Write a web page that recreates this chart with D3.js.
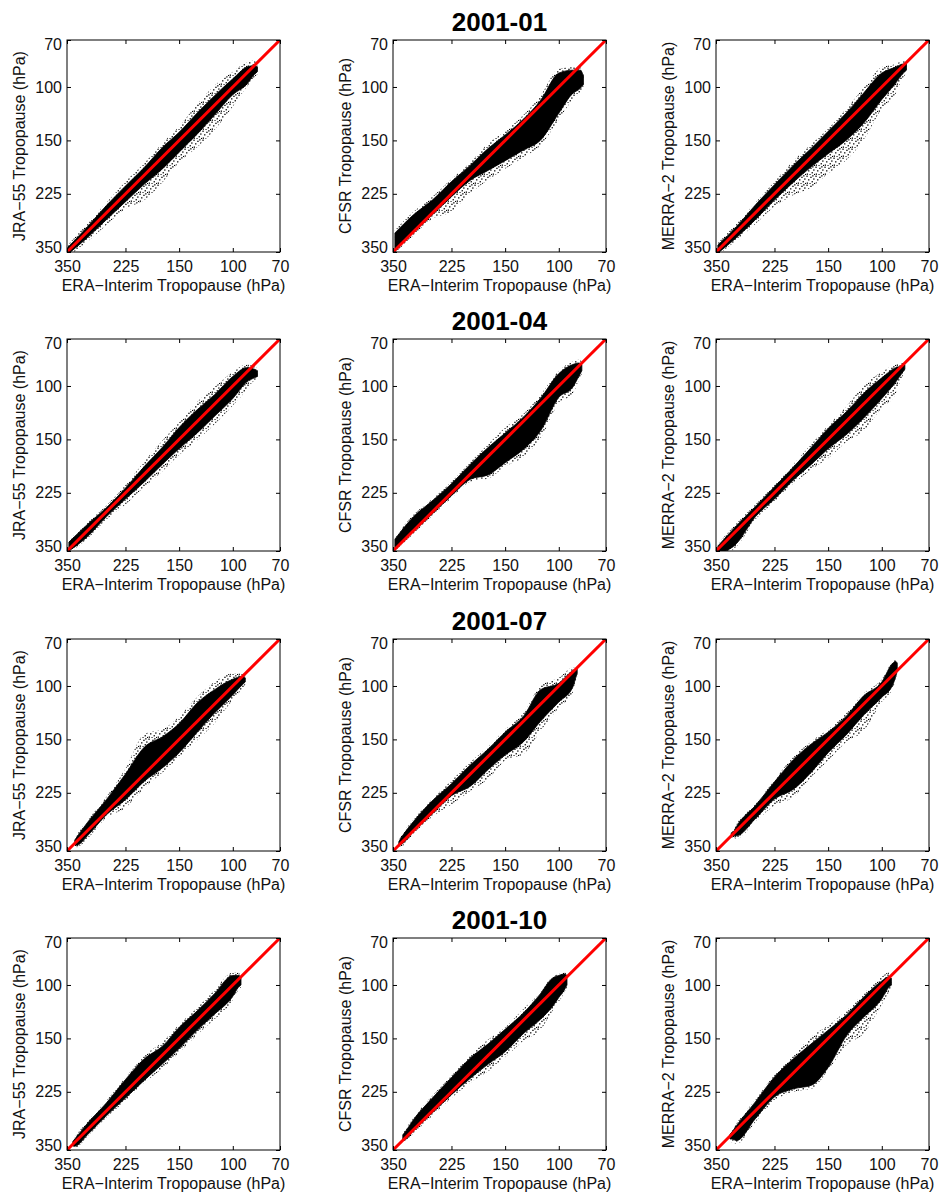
<!DOCTYPE html>
<html>
<head>
<meta charset="utf-8">
<script src="https://cdn.jsdelivr.net/npm/d3@7"></script>
<style>
  body { margin: 0; background: #fff; }
  text { font-family: "Liberation Sans", Arial, Helvetica, sans-serif; fill: #111; }
</style>
</head>
<body>
<script>
// cloud envelopes, one row per ERA-Interim level:
// [ERA p, dense min p, dense max p, sparse min p, sparse max p]  (hPa)
var jra55_0101 = [[348,338,356,332,362],[300,289,314,282,324],[260,246,274,241,285],[225,212,239,205,252],[195,184,209,178,236],[170,158,186,153,206],[150,141,164,135,177],[130,121,142,113,157],[115,107,124,99,139],[100,94,106,89,116],[90,86,98,83,100],[85,85,91,82,93],[83,86,89,84,91]];
var cfsr_0101 = [[345,303,348,296,353],[300,264,302,258,309],[260,236,264,230,272],[225,205,230,201,258],[195,181,203,177,224],[170,159,188,153,202],[150,144,175,140,186],[130,127,161,123,170],[115,111,150,107,156],[100,90,122,87,128],[90,88,105,86,110],[85,88,101,86,104],[83,92,98,90,101]];
var merra2_0101 = [[345,332,353,327,358],[300,289,314,282,321],[260,245,274,241,283],[225,210,236,205,248],[195,181,206,175,227],[170,159,183,154,214],[150,140,166,137,193],[130,121,149,117,173],[115,105,132,101,150],[100,90,110,86,118],[90,86,97,84,105],[85,84,90,82,93],[83,84,88,82,90]];

var jra55_0104 = [[345,327,350,322,356],[300,286,314,282,319],[260,252,270,248,276],[225,217,236,212,246],[195,184,207,177,215],[170,159,181,151,191],[150,137,161,132,169],[130,119,142,112,150],[115,107,126,101,134],[100,93,110,90,116],[90,87,97,85,103],[85,88,94,86,96],[83,89,93,88,95]];
var cfsr_0104 = [[345,320,345,315,350],[300,270,302,266,307],[260,239,264,236,268],[225,210,230,207,234],[195,181,203,178,207],[170,159,196,155,202],[150,143,179,137,184],[130,126,161,123,171],[115,110,141,107,149],[100,91,109,89,114],[90,85,101,83,106],[86,84,93,82,96],[84,85,89,83,91]];
var merra2_0104 = [[345,337,358,332,367],[300,289,331,284,339],[260,250,270,246,276],[225,215,236,212,241],[195,185,204,181,210],[170,159,181,155,188],[150,138,161,135,173],[130,121,144,116,152],[115,106,128,100,141],[100,94,110,90,118],[90,87,97,85,106],[86,86,91,84,94],[84,85,88,84,90]];

var jra55_0107 = [[330,322,332,320,336],[325,315,335,310,340],[300,282,312,278,319],[260,237,266,232,272],[225,195,237,187,252],[195,159,206,144,217],[170,147,186,139,193],[150,133,166,126,172],[130,113,141,108,150],[115,103,123,97,133],[100,95,107,91,111],[93,93,99,91,102],[91,94,97,92,99]];
var cfsr_0107 = [[335,326,334,322,338],[330,318,333,313,338],[300,280,302,276,307],[260,239,264,236,270],[225,210,230,205,246],[195,182,214,178,222],[170,161,188,158,202],[150,142,169,139,176],[130,125,152,122,167],[115,103,131,100,141],[100,98,113,94,118],[90,89,101,87,105],[88,88,94,87,96],[87,88,91,87,93]];
var merra2_0107 = [[312,305,313,302,316],[305,300,312,296,317],[300,291,312,286,319],[260,248,274,245,280],[225,207,236,204,248],[195,175,219,171,232],[170,155,192,152,199],[150,142,166,139,176],[130,125,144,122,152],[115,108,125,106,141],[100,97,109,95,113],[92,84,99,83,102],[90,83,93,82,95],[89,84,89,83,91]];

var jra55_0110 = [[335,328,338,326,342],[330,322,340,318,345],[300,286,312,282,316],[260,245,270,241,274],[225,205,236,202,241],[195,175,206,171,210],[170,159,182,154,188],[150,138,162,135,167],[130,121,140,118,145],[115,107,125,104,130],[100,93,109,91,112],[96,93,102,91,104],[94,95,100,94,102]];
var cfsr_0110 = [[325,312,322,308,326],[320,306,323,301,327],[300,278,302,274,309],[260,236,264,232,270],[225,202,230,199,236],[195,174,203,170,210],[170,156,182,151,192],[150,140,166,138,173],[130,123,144,119,152],[115,107,130,106,141],[105,95,118,94,122],[100,93,110,92,114],[96,92,104,91,106],[94,93,100,92,102]];
var merra2_0110 = [[315,311,322,308,328],[310,305,322,301,330],[300,291,326,286,334],[260,243,276,239,283],[225,201,234,198,241],[195,175,220,171,225],[170,156,214,148,220],[150,141,187,136,191],[130,125,146,121,157],[115,110,128,107,145],[100,97,111,94,116],[95,94,102,91,106],[93,95,100,94,102]];

var months = ["2001-01", "2001-04", "2001-07", "2001-10"];
var yTitles = ["JRA\u221255 Tropopause (hPa)", "CFSR Tropopause (hPa)", "MERRA\u22122 Tropopause (hPa)"];
var xTitle = "ERA\u2212Interim Tropopause (hPa)";
var tickValues = [350, 225, 150, 100, 70];
var pRange = [350, 70];

var clouds = [
    [jra55_0101, cfsr_0101, merra2_0101],
    [jra55_0104, cfsr_0104, merra2_0104],
    [jra55_0107, cfsr_0107, merra2_0107],
    [jra55_0110, cfsr_0110, merra2_0110]
];

var colLeft = [67, 393, 716];
var rowTop = [40, 339, 639, 938];
var pw = 213, ph = 212;

var svg = d3.select("body")
    .append("svg")
    .attr("width", 939)
    .attr("height", 1194);

svg.append("rect").attr("width", 939).attr("height", 1194).attr("fill", "#fff");

var defs = svg.append("defs");
// irregular speckle tile for the thin outer part of each cloud
var speck = defs.append("pattern")
    .attr("id", "speck")
    .attr("width", 9)
    .attr("height", 9)
    .attr("patternUnits", "userSpaceOnUse");
[[0.4, 0.6], [4.3, 1.7], [7.2, 3.4], [2.1, 4.2], [5.6, 6.1], [0.7, 7.5], [8.0, 7.9], [3.4, 8.2], [6.2, 0.2]].forEach(function (p) {
    speck.append("rect")
        .attr("x", p[0]).attr("y", p[1])
        .attr("width", 1.3).attr("height", 1.3)
        .attr("fill", "#000");
});

defs.append("clipPath")
    .attr("id", "box")
    .append("rect")
    .attr("width", pw)
    .attr("height", ph);

var xScale = d3.scaleLog().domain([350, 70]).range([0, pw]);
var yScale = d3.scaleLog().domain([70, 350]).range([0, ph]);

var denseArea = d3.area()
    .x(function (d) { return xScale(d[0]); })
    .y0(function (d) { return yScale(d[2]); })
    .y1(function (d) { return yScale(d[1]); })
    .curve(d3.curveMonotoneX);

var sparseArea = d3.area()
    .x(function (d) { return xScale(d[0]); })
    .y0(function (d) { return yScale(d[4]); })
    .y1(function (d) { return yScale(d[3]); })
    .curve(d3.curveMonotoneX);

var oneToOne = d3.line()
    .x(function (d) { return xScale(d); })
    .y(function (d) { return yScale(d); });

months.forEach(function (month, r) {
    // month title over the middle column
    svg.append("text")
        .attr("x", colLeft[1] + pw / 2)
        .attr("y", rowTop[r] - 9.5)
        .attr("text-anchor", "middle")
        .style("font-size", "26px")
        .style("font-weight", "bold")
        .style("fill", "#000")
        .text(month);

    colLeft.forEach(function (left, c) {
        var g = svg.append("g")
            .attr("transform", "translate(" + left + "," + rowTop[r] + ")");
        var data = clouds[r][c];

        var plot = g.append("g").attr("clip-path", "url(#box)");
        plot.append("path")
            .datum(data)
            .attr("d", sparseArea)
            .attr("fill", "url(#speck)");
        plot.append("path")
            .datum(data)
            .attr("d", denseArea)
            .attr("fill", "#000")
            .attr("stroke", "#000")
            .attr("stroke-width", 0.8);
        plot.append("path")
            .datum(pRange)
            .attr("d", oneToOne)
            .attr("fill", "none")
            .attr("stroke", "#ff0000")
            .attr("stroke-width", 3);

        // axes, ticks pointing inwards on all four sides
        g.append("g")
            .attr("transform", "translate(0," + ph + ")")
            .call(d3.axisBottom(xScale).tickValues(tickValues).tickFormat(d3.format("d"))
                .tickSizeInner(-4).tickSizeOuter(0).tickPadding(8.5));
        g.append("g")
            .call(d3.axisTop(xScale).tickValues(tickValues).tickFormat("")
                .tickSizeInner(-4).tickSizeOuter(0));
        var yl = g.append("g")
            .call(d3.axisLeft(yScale).tickValues(tickValues).tickFormat(d3.format("d"))
                .tickSizeInner(-4).tickSizeOuter(0).tickPadding(5));
        g.append("g")
            .attr("transform", "translate(" + pw + ",0)")
            .call(d3.axisRight(yScale).tickValues(tickValues).tickFormat("")
                .tickSizeInner(-4).tickSizeOuter(0));

        g.selectAll(".domain").remove();
        g.selectAll(".tick line").attr("stroke", "#000");
        g.selectAll(".tick text")
            .attr("fill", "#111")
            .style("font-size", "16px")
            .style("font-family", "'Liberation Sans', Arial, Helvetica, sans-serif");

        // end labels on the y axis sit a little inside the box
        yl.selectAll(".tick text")
            .attr("y", function (d) { return d === 70 ? 4.5 : (d === 350 ? -4.5 : 0); });

        g.append("rect")
            .attr("width", pw)
            .attr("height", ph)
            .attr("fill", "none")
            .attr("stroke", "#000")
            .attr("stroke-width", 1);

        g.append("text")
            .attr("x", pw / 2)
            .attr("y", ph + 39)
            .attr("text-anchor", "middle")
            .style("font-size", "16px")
            .text(xTitle);

        g.append("text")
            .attr("transform", "translate(-42," + (ph / 2) + ") rotate(-90)")
            .attr("text-anchor", "middle")
            .style("font-size", "16px")
            .text(yTitles[c]);
    });
});
</script>
</body>
</html>
